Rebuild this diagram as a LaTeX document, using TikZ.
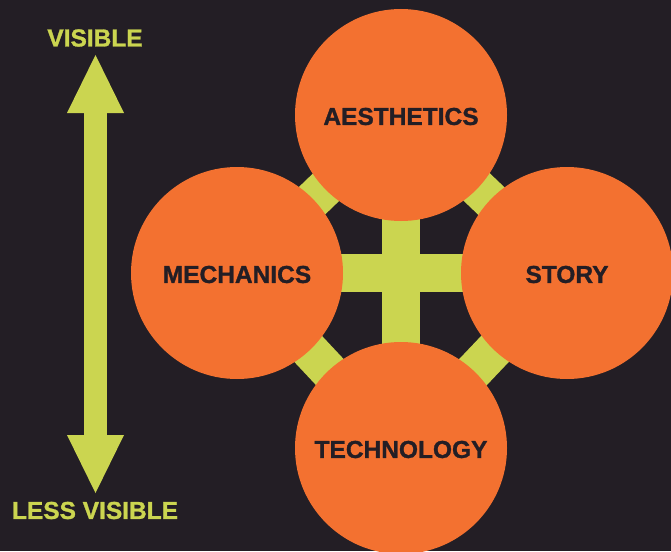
\documentclass[tikz,border=0pt]{standalone}
\usepackage{fontspec}
\setmainfont{Liberation Sans}[BoldFeatures={FakeBold=1.2}]
\usetikzlibrary{arrows.meta,backgrounds}
\definecolor{nightbg}{HTML}{231E25}
\definecolor{elemorange}{HTML}{F37130}
\definecolor{linkgreen}{HTML}{CBD550}
\tikzset{
    element/.style={circle, fill=elemorange, minimum size=212pt, inner sep=0pt},
    elemtext/.style={text=nightbg, inner sep=0pt, yshift=-1.5pt,
        font=\bfseries\fontsize{24.5}{28}\selectfont},
    link/.style={draw=linkgreen, line width=38pt},
    scalelabel/.style={text=linkgreen, inner sep=0pt,
        font=\bfseries\fontsize{24.5}{28}\selectfont},
    scalearrow/.style={draw=linkgreen, line width=23pt, {Triangle[width=57pt,length=58pt,line width=0pt]}-{Triangle[width=57pt,length=58pt,line width=0pt]}},
}

\begin{document}
\begin{tikzpicture}[x=1pt,y=-1pt]
    \clip (0,0) rectangle (671,551);
    \node[element] (aesthetics) at (401,115) {};
    \node[element] (mechanics) at (237,273) {};
    \node[element] (story) at (567,273) {};
    \node[element] (technology) at (401,448) {};
    \node[elemtext] (aestheticstext) at (aesthetics) {AESTHETICS};
    \node[elemtext] (mechanicstext) at (mechanics) {MECHANICS};
    \node[elemtext] (storytext) at (story) {STORY};
    \node[elemtext] (technologytext) at (technology) {TECHNOLOGY};
    \begin{scope}[on background layer]
        \fill[nightbg] (0,0) rectangle (671,551);
        \draw[link] (aesthetics.center) -- (story.center) -- (technology.center) -- (mechanics.center) -- cycle;
        \draw[link] (aesthetics.center) -- (technology.center);
        \draw[link] (mechanics.center) -- (story.center);
    \end{scope}
    \node[scalelabel] (visible) at (95,38) {VISIBLE};
    \node[scalelabel] (lessvisible) at (95,510.5) {LESS VISIBLE};
    \coordinate (uptip) at (95.5,55);
    \coordinate (downtip) at (95.5,493);
    \draw[scalearrow] (downtip) -- (uptip);
\end{tikzpicture}
\end{document}
